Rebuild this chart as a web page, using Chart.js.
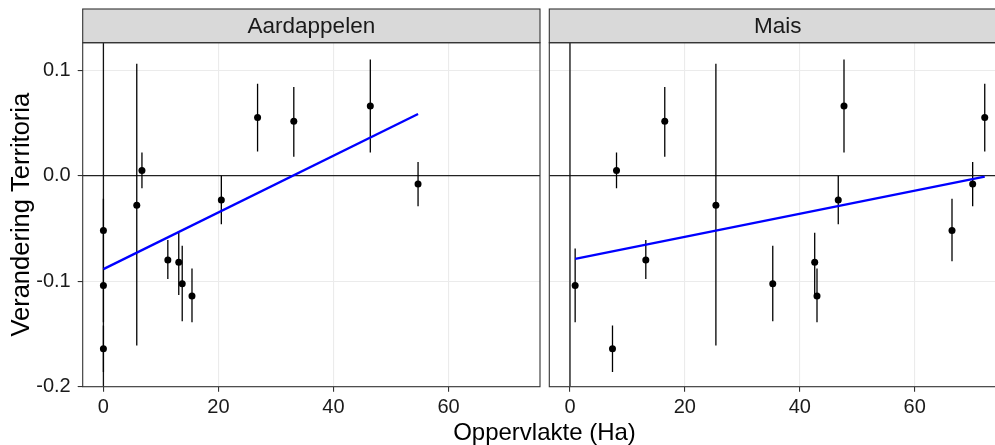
<!DOCTYPE html>
<html>
<head>
<meta charset="utf-8">
<script src="https://cdn.jsdelivr.net/npm/chart.js@4.4.1/dist/chart.umd.min.js"></script>
<style>
  html, body { margin: 0; padding: 0; background: #fff; overflow: hidden; }
  #wrap { position: relative; width: 1012px; height: 445px; }
  #left { position: absolute; left: 0; top: 0; }
  #right { position: absolute; left: 545px; top: 0; }
  #xtitle {
    position: absolute; left: 0; top: 418px; width: 1089px;
    text-align: center; font: 24px "Liberation Sans", Arial, sans-serif;
    line-height: 28px; color: #000;
  }
</style>
</head>
<body>
<div id="wrap">
  <canvas id="left" width="545" height="445"></canvas>
  <canvas id="right" width="467" height="445"></canvas>
  <div id="xtitle">Oppervlakte (Ha)</div>
</div>
<script>
// axes
const xMin = -3.6, xMax = 75.9;
const yMin = -0.2, yMax = 0.126;
const xTicks = [0, 20, 40, 60];
const yTicks = [-0.2, -0.1, 0.0, 0.1];
const yTickLabels = ['-0.2', '-0.1', '0.0', '0.1'];
const panels = ['Aardappelen', 'Mais'];

// Aardappelen
const aardX  = [0, 0, 0, 5.8, 6.7, 11.2, 13.1, 13.7, 15.4, 20.5, 26.8, 33.1, 46.4, 54.7];
const aardY  = [-0.052, -0.104, -0.164, -0.028, 0.005, -0.080, -0.082, -0.1025, -0.114, -0.023, 0.055, 0.0515, 0.066, -0.008];
const aardLo = [-0.081, -0.139, -0.186, -0.161, -0.012, -0.098, -0.113, -0.138, -0.139, -0.046, 0.023, 0.018, 0.022, -0.029];
const aardHi = [-0.022, -0.069, -0.142, 0.106, 0.022, -0.061, -0.054, -0.0665, -0.088, 0.000, 0.087, 0.084, 0.110, 0.013];
const aardFitX = [0, 54.7];
const aardFitY = [-0.0886, 0.0584];

// Mais
const maisX  = [0.9, 7.4, 8.1, 13.2, 16.5, 25.4, 35.3, 42.6, 43.0, 46.7, 47.7, 66.5, 70.1, 72.2];
const maisY  = [-0.104, -0.164, 0.005, -0.080, 0.0515, -0.028, -0.1025, -0.082, -0.114, -0.023, 0.066, -0.052, -0.008, 0.055];
const maisLo = [-0.139, -0.186, -0.012, -0.098, 0.018, -0.161, -0.138, -0.113, -0.139, -0.046, 0.022, -0.081, -0.029, 0.023];
const maisHi = [-0.069, -0.142, 0.022, -0.061, 0.084, 0.106, -0.0665, -0.054, -0.088, 0.000, 0.110, -0.022, 0.013, 0.087];
const maisFitX = [0.9, 72.2];
const maisFitY = [-0.0788, -0.001];

const FONT = '"Liberation Sans", Arial, sans-serif';

const facetPlugin = {
    id: 'facet',
    beforeDraw(chart, args, opts) {
        const { ctx, chartArea: a } = chart;
        ctx.save();
        ctx.fillStyle = '#D9D9D9';
        ctx.fillRect(a.left, opts.stripTop, a.right - a.left, a.top - opts.stripTop);
        ctx.restore();
    },
    afterDraw(chart, args, opts) {
        const { ctx, chartArea: a } = chart;
        ctx.save();
        ctx.strokeStyle = '#333333';
        ctx.lineWidth = 1.1;
        ctx.strokeRect(a.left, a.top, a.right - a.left, a.bottom - a.top);
        ctx.strokeRect(a.left, opts.stripTop, a.right - a.left, a.top - opts.stripTop);
        ctx.fillStyle = '#1A1A1A';
        ctx.font = '22.5px ' + FONT;
        ctx.textAlign = 'center';
        ctx.textBaseline = 'middle';
        ctx.fillText(opts.label, (a.left + a.right) / 2, (opts.stripTop + a.top) / 2 + 1);
        ctx.restore();
    }
};

function errorData(xs, lo, hi) {
    const out = [];
    xs.forEach((x, i) => {
        out.push({ x: x, y: lo[i] }, { x: x, y: hi[i] }, { x: x, y: null });
    });
    return out;
}

function makePanel(canvasId, label, xs, ys, lo, hi, fx, fy, isFirst) {
    const ctx = document.getElementById(canvasId).getContext('2d');
    return new Chart(ctx, {
        type: 'scatter',
        data: {
            datasets: [
                {
                    // horizontal reference line at 0
                    data: [{ x: xMin, y: 0 }, { x: xMax, y: 0 }],
                    showLine: true, borderColor: '#222222', borderWidth: 1.3,
                    pointRadius: 0, order: 5
                },
                {
                    // vertical reference line at 0
                    data: [{ x: 0, y: yMin }, { x: 0, y: yMax }],
                    showLine: true, borderColor: '#111111', borderWidth: 1.3,
                    pointRadius: 0, order: 4
                },
                {
                    data: errorData(xs, lo, hi),
                    showLine: true, spanGaps: false, borderColor: '#000000', borderWidth: 1.3,
                    pointRadius: 0, order: 3
                },
                {
                    data: xs.map((x, i) => ({ x: x, y: ys[i] })),
                    backgroundColor: '#000000', borderWidth: 0, pointRadius: 3.5, order: 2
                },
                {
                    data: fx.map((x, i) => ({ x: x, y: fy[i] })),
                    showLine: true, borderColor: '#0000FF', borderWidth: 2.3,
                    pointRadius: 0, order: 1
                }
            ]
        },
        options: {
            responsive: false,
            animation: false,
            devicePixelRatio: 1,
            layout: { padding: isFirst ? { left: 0, top: 42.7, right: 5, bottom: 0 } : { left: 4.3, top: 42.7, right: 6, bottom: 0 } },
            plugins: {
                legend: { display: false },
                tooltip: { enabled: false },
                facet: { label: label, stripTop: 9 }
            },
            scales: {
                x: {
                    type: 'linear', min: xMin, max: xMax,
                    afterBuildTicks: s => { s.ticks = xTicks.map(v => ({ value: v })); },
                    afterFit: s => { s.height = 58.3; },
                    grid: { color: '#EBEBEB', lineWidth: 1.1, tickLength: 5, tickColor: '#333333', tickWidth: 1.1 },
                    border: { display: false },
                    ticks: { color: '#1A1A1A', font: { family: FONT, size: 20 }, padding: 4, maxRotation: 0, autoSkip: false },
                    title: { display: false }
                },
                y: {
                    type: 'linear', min: yMin, max: yMax,
                    afterBuildTicks: s => { s.ticks = yTicks.map(v => ({ value: v })); },
                    afterFit: s => { s.width = isFirst ? 82.7 : 0; },
                    grid: { color: '#EBEBEB', lineWidth: 1.1, drawTicks: isFirst, tickLength: 5, tickColor: '#333333', tickWidth: 1.1 },
                    border: { display: false },
                    ticks: {
                        display: isFirst, color: '#1A1A1A', font: { family: FONT, size: 20 }, padding: 7,
                        callback: (v) => yTickLabels[yTicks.indexOf(v)]
                    },
                    title: {
                        display: isFirst, text: 'Verandering Territoria', color: '#000',
                        font: { family: FONT, size: 25.5 }, padding: { top: 7, bottom: 0 }
                    }
                }
            }
        },
        plugins: [facetPlugin]
    });
}

makePanel('left', panels[0], aardX, aardY, aardLo, aardHi, aardFitX, aardFitY, true);
makePanel('right', panels[1], maisX, maisY, maisLo, maisHi, maisFitX, maisFitY, false);
</script>
</body>
</html>
